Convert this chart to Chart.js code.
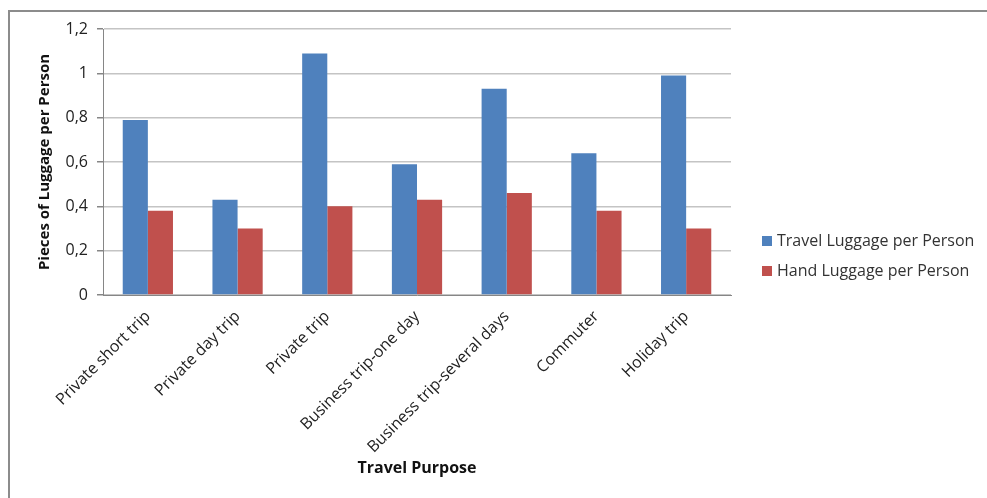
<!DOCTYPE html>
<html>
<head>
<meta charset="utf-8">
<script src="https://cdn.jsdelivr.net/npm/chart.js@4/dist/chart.umd.min.js"></script>
<style>
  html, body { margin: 0; padding: 0; background: #fff; overflow: hidden; }
  #wrap { position: relative; width: 987px; height: 498px; overflow: hidden; }
  #frame { position: absolute; left: 8px; top: 10px; right: 0; bottom: 0; border-top: 2px solid #8c8c8c; border-left: 2px solid #8c8c8c; }
  #c { position: absolute; left: 0; top: 0; }
  #legend { position: absolute; left: 762px; top: 228px; font-family: "Open Sans", sans-serif; font-size: 16px; color: #333; }
  #legend div { height: 30px; line-height: 24px; white-space: nowrap; }
  #legend span { display: inline-block; width: 10px; height: 10px; margin-right: 5px; vertical-align: 0px; }
</style>
</head>
<body>
<div id="wrap">
  <div id="frame"></div>
  <canvas id="c" width="987" height="498"></canvas>
  <div id="legend"></div>
</div>
<script>
const categories = ["Private short trip", "Private day trip", "Private trip", "Business trip-one day",
  "Business trip-several days", "Commuter", "Holiday trip"];
const travelLuggage = [0.79, 0.43, 1.09, 0.59, 0.93, 0.64, 0.99];
const handLuggage = [0.38, 0.30, 0.40, 0.43, 0.46, 0.38, 0.30];
const seriesNames = ["Travel Luggage per Person", "Hand Luggage per Person"];
const seriesColors = ["#4f81bd", "#c0504d"];

const font = "'Open Sans', sans-serif";

const chart = new Chart(document.getElementById('c'), {
  type: 'bar',
  data: {
    labels: categories,
    datasets: [
      { label: seriesNames[0], data: travelLuggage, backgroundColor: seriesColors[0] },
      { label: seriesNames[1], data: handLuggage, backgroundColor: seriesColors[1] }
    ]
  },
  options: {
    responsive: false,
    animation: false,
    layout: { padding: { left: 0, right: 256, top: 29, bottom: 20 } },
    datasets: { bar: { categoryPercentage: 0.56, barPercentage: 1 } },
    plugins: { legend: { display: false }, tooltip: { enabled: false } },
    scales: {
      x: {
        afterFit: s => { s.height = 183; },
        grid: { display: false },
        border: { display: true, color: '#868686', width: 1 },
        ticks: { maxRotation: 45, minRotation: 45, color: '#222', font: { family: font, size: 16 }, padding: 4 },
        title: { display: true, text: 'Travel Purpose', color: '#111', font: { family: font, size: 16, weight: 'bold' }, padding: { top: 0, bottom: 0 } }
      },
      y: {
        min: 0, max: 1.2,
        afterFit: s => { s.width = 103; },
        grid: { color: '#c4c4c4', lineWidth: 1.5, tickLength: 6, tickColor: '#868686' },
        border: { display: true, color: '#868686', width: 1 },
        ticks: {
          stepSize: 0.2, padding: 9, color: '#222', font: { family: font, size: 16 },
          callback: v => String(Number(v.toFixed(1))).replace('.', ',')
        },
        title: { display: true, text: 'Pieces of Luggage per Person', color: '#111', font: { family: font, size: 15, weight: 'bold' }, padding: { top: 36, bottom: 0 } }
      }
    }
  }
});

const legend = document.getElementById('legend');
chart.data.datasets.forEach(ds => {
  const row = document.createElement('div');
  const box = document.createElement('span');
  box.style.background = ds.backgroundColor;
  row.appendChild(box);
  row.appendChild(document.createTextNode(ds.label));
  legend.appendChild(row);
});
</script>
</body>
</html>
